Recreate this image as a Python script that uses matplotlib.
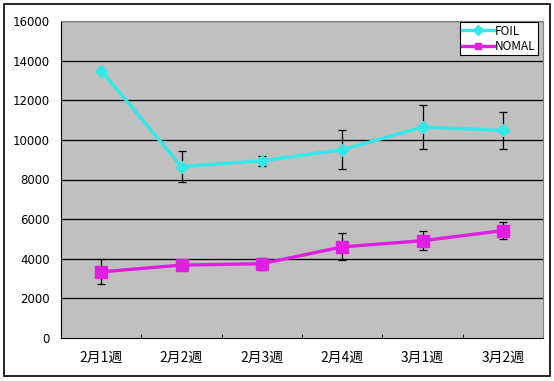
import matplotlib.pyplot as plt
import numpy as np
from matplotlib.patches import Rectangle

plt.rcParams["font.family"] = ["Noto Sans CJK JP", "DejaVu Sans"]

weeks = ["2月1週", "2月2週", "2月3週", "2月4週", "3月1週", "3月2週"]

foil = [13500, 8650, 8950, 9500, 10650, 10480]
foil_err = [0, 800, 250, 980, 1130, 930]

nomal = [3340, 3680, 3750, 4600, 4910, 5420]
nomal_err = [630, 0, 300, 680, 480, 430]

fig = plt.figure(figsize=(5.54, 3.81), dpi=100)
ax = fig.add_axes([61 / 554, 1 - 338 / 381, 482 / 554, 317 / 381])

x = np.arange(len(weeks))

ax.set_facecolor("#c0c0c0")
for v in range(2000, 16001, 2000):
    ax.axhline(v, color="black", linewidth=0.9, zorder=1)

for vals, errs in [(foil, foil_err), (nomal, nomal_err)]:
    ax.errorbar(x, vals, yerr=errs, fmt="none", ecolor="black", elinewidth=0.9,
                capsize=3, capthick=0.9, zorder=2)

ax.plot(x, foil, color="#33e8e8", linewidth=2.4, marker="D", markersize=6,
        label="FOIL", zorder=3)
ax.plot(x, nomal, color="#e020e0", linewidth=2.4, marker="s", markersize=8,
        label="NOMAL", zorder=3)

ax.set_xlim(-0.5, len(weeks) - 0.5)
ax.set_ylim(0, 16000)
ax.set_yticks(range(0, 16001, 2000))
ax.set_yticklabels([str(v) for v in range(0, 16001, 2000)], family="DejaVu Sans")
ax.set_xticks(x)
ax.set_xticklabels(weeks)
ax.set_xticks(np.arange(0.5, len(weeks) - 0.5, 1), minor=True)
ax.tick_params(axis="x", which="major", length=0, pad=9, labelsize=10)
ax.tick_params(axis="x", which="minor", direction="in", length=3, color="black")
ax.tick_params(axis="y", length=0, pad=8, labelsize=8.5)

for side in ["top", "right"]:
    ax.spines[side].set_color("#808080")
for side in ["left", "bottom"]:
    ax.spines[side].set_color("black")

leg = ax.legend(loc="upper right", bbox_to_anchor=(0.992, 1.0), fontsize=8.5,
                frameon=True, fancybox=False, edgecolor="black", framealpha=1,
                borderpad=0.2, labelspacing=0.2, handlelength=2.7, handletextpad=0.1,
                borderaxespad=0.1)
leg.get_frame().set_linewidth(0.8)
for h in leg.legend_handles:
    h.set_markersize(5)

fig.patches.append(Rectangle((4 / 554, 5 / 381), 546 / 554, 372 / 381,
                             transform=fig.transFigure, fill=False,
                             edgecolor="black", linewidth=1.2))

fig.savefig("out.png", dpi=100)
